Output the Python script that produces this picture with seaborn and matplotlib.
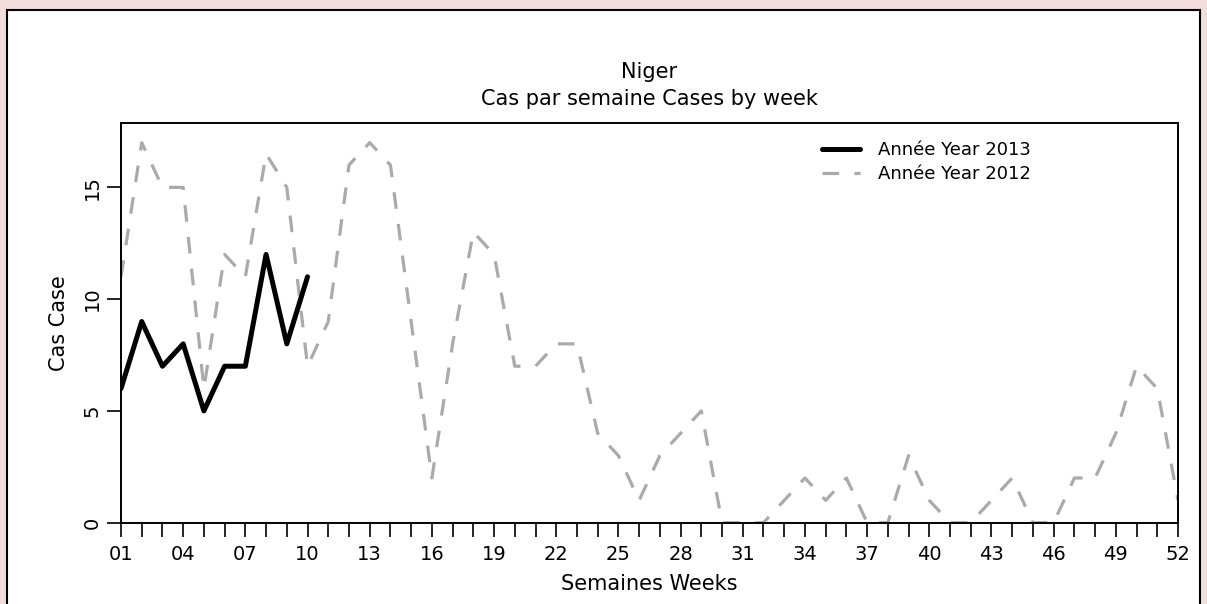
import numpy as np
import pandas as pd
import matplotlib
matplotlib.use("Agg")
import matplotlib.pyplot as plt
from matplotlib.patches import Rectangle
import seaborn as sns

# weekly case counts
weeks = list(range(1, 53))
cases_2012 = [11, 17, 15, 15, 6, 12, 11, 16.5, 15, 7, 9, 16, 17, 16, 9, 2, 8, 13,
              12, 7, 7, 8, 8, 4, 3, 1, 3, 4, 5, 0, 0, 0, 1, 2, 1, 2, 0, 0, 3, 1,
              0, 0, 1, 2, 0, 0, 2, 2, 4, 7, 6, 1]
weeks_2013 = list(range(1, 11))
cases_2013 = [6, 9, 7, 8, 5, 7, 7, 12, 8, 11]

tick_weeks = list(range(1, 53, 3))
tick_labels = [f"{w:02d}" for w in tick_weeks]
y_ticks = [0, 5, 10, 15]

sns.set_style("ticks")
plt.rcParams['font.family'] = ['DejaVu Sans']
plt.rcParams['lines.scale_dashes'] = False
plt.rcParams['text.color'] = 'black'
plt.rcParams['axes.labelcolor'] = 'black'
plt.rcParams['xtick.color'] = 'black'
plt.rcParams['ytick.color'] = 'black'

fig = plt.figure(figsize=(12.07, 6.04), dpi=100)
fig.patch.set_facecolor('#f2dcdc')

# white panel with black border
panel = Rectangle((7 / 1207, -0.01), 1193 / 1207, 1 - 10 / 604 + 0.01,
                  transform=fig.transFigure, facecolor='white',
                  edgecolor='black', linewidth=1.5, zorder=-5)
fig.patches.append(panel)

ax = fig.add_axes([121 / 1207, 1 - 522.7 / 604, 1057 / 1207, 399.7 / 604])
ax.set_facecolor('white')

sns.lineplot(x=weeks, y=cases_2012, ax=ax, color='#aaaaaa', linewidth=2.3,
             linestyle=(0, (12, 11)), label='Année Year 2012')
sns.lineplot(x=weeks_2013, y=cases_2013, ax=ax, color='black', linewidth=3.6,
             label='Année Year 2013')

ax.set_xlim(1, 52)
ax.set_ylim(0, 17.88)
ax.set_xticks(weeks, minor=True)
ax.set_xticks(tick_weeks)
ax.set_xticklabels(tick_labels)
ax.set_yticks(y_ticks)
ax.set_yticklabels([str(v) for v in y_ticks], rotation=90, va='center')

ax.tick_params(axis='both', which='both', direction='out', length=10,
               width=1.2, color='black', labelsize=14, pad=4)
ax.tick_params(axis='x', pad=6)
for sp in ax.spines.values():
    sp.set_visible(True)
    sp.set_linewidth(1.4)
    sp.set_color('black')

ax.set_xlabel('Semaines Weeks', fontsize=15, labelpad=7)
ax.set_ylabel('Cas Case', fontsize=15, labelpad=10)

fig.text(649.5 / 1207, 1 - 72 / 604, 'Niger', ha='center', va='center', fontsize=15)
fig.text(649.5 / 1207, 1 - 99 / 604, 'Cas par semaine Cases by week',
         ha='center', va='center', fontsize=15)

handles, labels = ax.get_legend_handles_labels()
order = [1, 0]
ax.legend([handles[i] for i in order], [labels[i] for i in order],
          loc='upper left', bbox_to_anchor=(0.663, 0.955), frameon=False,
          fontsize=13, handlelength=2.1, handletextpad=1.0, labelspacing=0.35,
          borderaxespad=0, borderpad=0)

fig.savefig('out.png', dpi=100, facecolor=fig.get_facecolor())
